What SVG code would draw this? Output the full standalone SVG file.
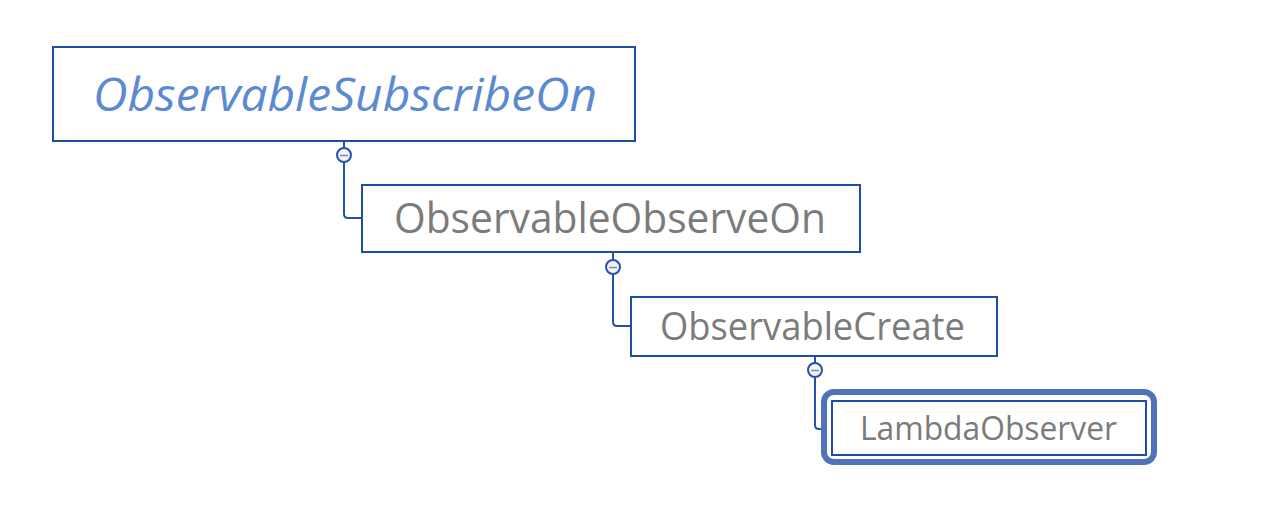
<svg xmlns="http://www.w3.org/2000/svg" width="1270" height="524" viewBox="0 0 1270 524">
<style>
.box{fill:#fff;stroke:#1f4ea6;stroke-width:2}
.lbl{font-family:"Open Sans","Noto Sans",sans-serif;fill:#7b7b7b;text-anchor:middle}
.conn{fill:none;stroke:#2452a8;stroke-width:2}
.tog circle{fill:#f2f3f8;stroke:#2452a8;stroke-width:2}
.tog line{stroke:#7d8bb0;stroke-width:1.5}
</style>
<rect width="1270" height="524" fill="#fff"/>
<g id="connectors">
<path class="conn" d="M344 141V148M344 162V214Q344 218 348 218H362"/>
<path class="conn" d="M613 252V260M613 274V322Q613 326 617 326H631"/>
<path class="conn" d="M815 356V363M815 377V425Q815 429 819 429H823"/>
</g>
<g id="n1">
<rect class="box" x="53" y="47" width="582" height="94"/>
<text class="lbl" x="345" y="111" font-size="46" font-style="italic" fill="#5b8ad3" style="fill:#5b8ad3" textLength="504" lengthAdjust="spacingAndGlyphs">ObservableSubscribeOn</text>
</g>
<g id="n2">
<rect class="box" x="362" y="185" width="498" height="67"/>
<text class="lbl" x="610" y="233" font-size="42" textLength="432" lengthAdjust="spacingAndGlyphs">ObservableObserveOn</text>
</g>
<g id="n3">
<rect class="box" x="631" y="297" width="366" height="59"/>
<text class="lbl" x="812.5" y="340" font-size="38" textLength="305" lengthAdjust="spacingAndGlyphs">ObservableCreate</text>
</g>
<g id="n4">
<rect x="824" y="392" width="330" height="70" rx="10" fill="#fff" stroke="#4f72b9" stroke-width="6"/>
<rect class="box" x="832" y="401" width="314" height="54"/>
<text class="lbl" x="988.5" y="440" font-size="32" textLength="257" lengthAdjust="spacingAndGlyphs">LambdaObserver</text>
</g>
<g id="toggles" class="tog">
<g id="t1"><circle cx="344" cy="155" r="7"/><line x1="340" y1="155.5" x2="348" y2="155.5"/></g>
<g id="t2"><circle cx="613" cy="267" r="7"/><line x1="609" y1="267.5" x2="617" y2="267.5"/></g>
<g id="t3"><circle cx="815" cy="370" r="7"/><line x1="811" y1="370.5" x2="819" y2="370.5"/></g>
</g>
</svg>
